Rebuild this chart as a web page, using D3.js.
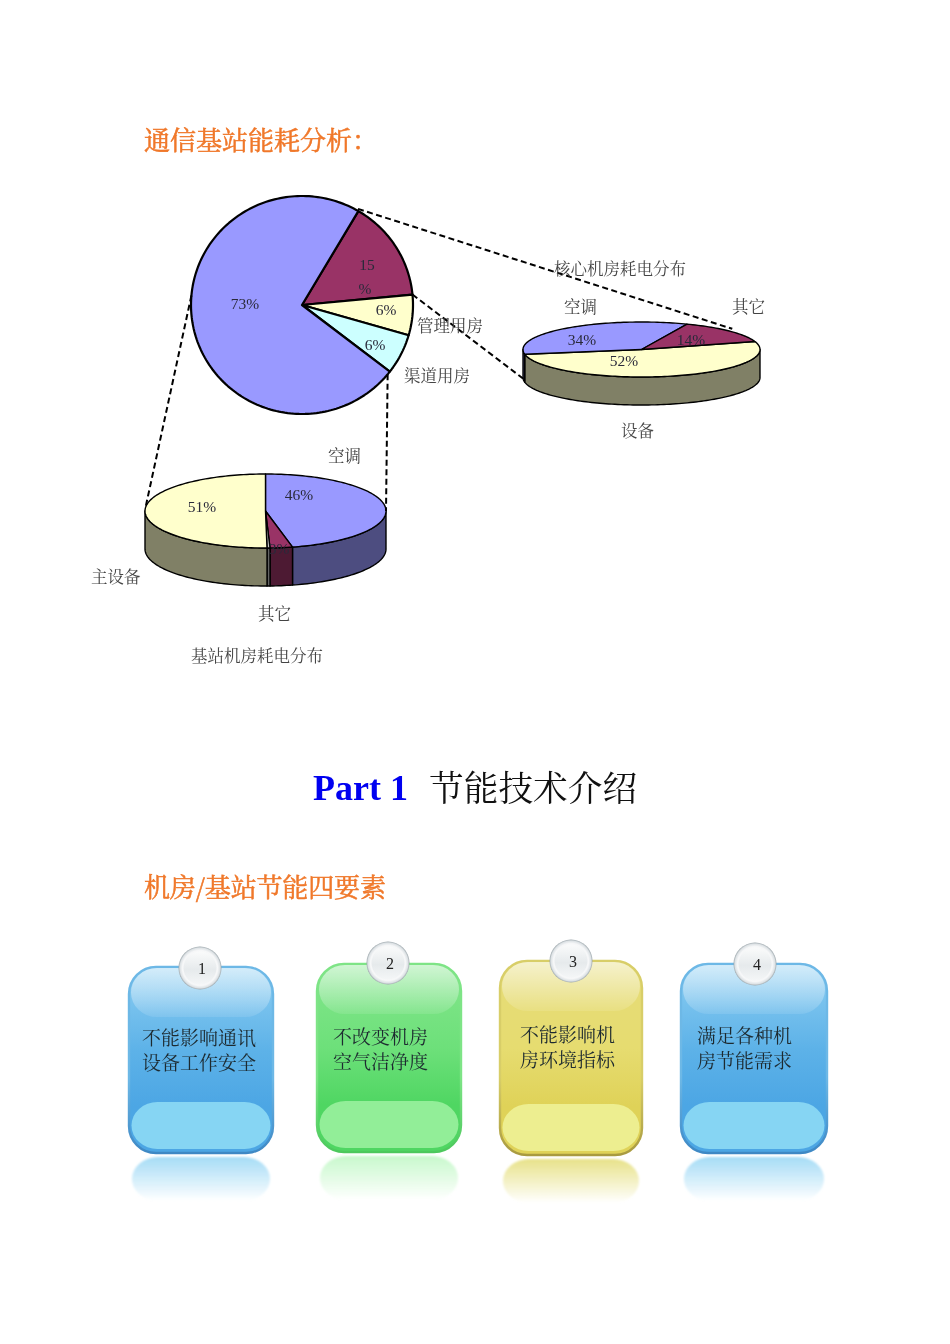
<!DOCTYPE html>
<html lang="zh"><head><meta charset="utf-8">
<script src="https://cdn.jsdelivr.net/npm/d3@7/dist/d3.min.js"></script>
<style>
html,body{margin:0;padding:0;background:#fff}
svg{display:block;filter:blur(.4px)}
text{font-family:"Noto Serif CJK SC","Source Han Serif SC","Liberation Serif","Noto Sans CJK SC",serif}
</style></head><body>
<svg id="c" width="950" height="1344" viewBox="0 0 950 1344"></svg>
<script>
// ---- data ----
const mainValues = [15, 6, 6, 73];
const mainLabels = ["15\n%", "6%", "6%", "73%"];
const mainColors = ["#993366", "#FFFFCC", "#CCFFFF", "#9999FF"];
const coreValues = [52, 34, 14];
const coreLabels = ["52%", "34%", "14%"];
const coreColors = ["#FFFFCC", "#9999FF", "#993366"];
const stationValues = [46.4, 3, 0.4, 50.2];
const stationLabels = ["46%", "3%", "", "51%"];
const stationColors = ["#9999FF", "#993366", "#C8C8C8", "#FFFFCC"];
const cardTexts = [["不能影响通讯","设备工作安全"],["不改变机房","空气洁净度"],["不能影响机","房环境指标"],["满足各种机","房节能需求"]];
const cardNumbers = ["1","2","3","4"];

// ---- layout & style ----
const svg = d3.select("#c");
const deg = Math.PI/180;
const ink = "#000";
const serif = '"Liberation Serif",serif';
const labelCol = "#444";

function pieGeom(values, startDeg){
  return d3.pie().sort(null).startAngle(startDeg*deg).endAngle((startDeg+360)*deg)(values);
}
function pt(p, a, dy=0){ // a is clockwise from 12 o'clock, radians
  return [p.cx + p.rx*Math.sin(a), p.cy - p.ry*Math.cos(a) + dy];
}
const line = d3.line();
function arcPts(p, a0, a1, dy=0){
  const n = Math.max(2, Math.ceil(Math.abs(a1-a0)/(1.5*deg)));
  return d3.range(n+1).map(i => pt(p, a0+(a1-a0)*i/n, dy));
}
function halve(c){ const k=d3.color(c); return d3.rgb(k.r/2,k.g/2,k.b/2); }
function drawPie(p, slices, colors, sw){
  const g = svg.append("g");
  if(p.depth){
    slices.forEach((s,i)=>{
      [[Math.PI/2,1.5*Math.PI],[2.5*Math.PI,3.5*Math.PI]].forEach(([lo,hi])=>{
        const a0=Math.max(s.startAngle,lo), a1=Math.min(s.endAngle,hi);
        if(a1<=a0) return;
        const top=arcPts(p,a0,a1), bot=arcPts(p,a1,a0,p.depth);
        g.append("path").attr("d",line(top.concat(bot))+"Z")
          .attr("fill",halve(colors[i]))
          .attr("stroke",ink).attr("stroke-width",sw).attr("stroke-linejoin","round");
      });
    });
  }
  slices.forEach((s,i)=>{
    g.append("path").attr("d",line([[p.cx,p.cy]].concat(arcPts(p,s.startAngle,s.endAngle)))+"Z")
      .attr("fill",colors[i]).attr("stroke",ink).attr("stroke-width",sw).attr("stroke-linejoin","round");
  });
}
function label(x,y,t,opt={}){
  return svg.append("text").attr("x",x).attr("y",y).text(t)
    .attr("font-size",opt.size||16.5).attr("fill",opt.fill||labelCol)
    .attr("text-anchor",opt.anchor||"start")
    .attr("font-weight",opt.weight||null)
    .attr("stroke",opt.stroke||null).attr("stroke-width",opt.strokeWidth||null)
    .style("font-family",opt.family||null);
}

const mainPie = {cx:302,cy:305,rx:111,ry:109};
const corePie = {cx:641.5,cy:349.5,rx:118.5,ry:27.5,depth:28};
const stationPie = {cx:265.5,cy:511,rx:120.5,ry:37,depth:38};
const mainSlices = pieGeom(mainValues,30.5);
const coreSlices = pieGeom(coreValues,73);
const stationSlices = pieGeom(stationValues,0);

// ---- headings ----
const headStyle={size:26,fill:"#F0782A",stroke:"#F0782A",strokeWidth:.55};
label(144,150,"通信基站能耗分析：",headStyle);
label(144,897,"机房/基站节能四要素",headStyle).attr("textLength",242);
label(313,800,"Part 1",{size:36,fill:"#0000F0",weight:700,family:serif});
label(429,801,"节能技术介绍",{size:34.7,fill:"#111"});

// ---- pies ----
drawPie(mainPie,mainSlices,mainColors,2.2);
drawPie(corePie,coreSlices,coreColors,1.4);
drawPie(stationPie,stationSlices,stationColors,1.4);

// ---- connectors ----
const connectors = [
 [pt(mainPie,30.3*deg,-2), pt(corePie,50*deg,-3)],
 [pt(mainPie,mainSlices[0].endAngle), pt(corePie,270*deg,29)],
 [pt(mainPie,275*deg), pt(stationPie,275*deg)],
 [pt(mainPie,129.5*deg), pt(stationPie,90*deg)]
];
svg.append("g").selectAll("path").data(connectors).join("path")
  .attr("d",d=>line(d)).attr("fill","none").attr("stroke",ink)
  .attr("stroke-width",2).attr("stroke-dasharray","6 3.5");

// ---- percentage labels ----
const pctStyle={size:15.5,fill:"#2a2a3a",anchor:"middle",family:serif};
const mainLabelPos=[[367,270],[386,315],[375,350],[245,309]];
mainLabels.forEach((t,i)=>{
  t.split("\n").forEach((s,j)=>label(mainLabelPos[i][0]-j*2,mainLabelPos[i][1]+j*24,s,pctStyle));
});
const coreLabelPos=[[624,366],[582,345],[691,345]];
coreLabels.forEach((t,i)=>label(coreLabelPos[i][0],coreLabelPos[i][1],t,pctStyle));
const stationLabelPos=[[299,500],[279,554],[0,0],[202,512]];
stationLabels.forEach((t,i)=>{ if(t) label(stationLabelPos[i][0],stationLabelPos[i][1],t,pctStyle); });

// ---- category labels ----
[["管理用房",417,332],["渠道用房",404,382],["核心机房耗电分布",554,275],["空调",564,313],["其它",732,313],
 ["设备",621,437],["空调",328,462],["主设备",91,583],["其它",258,620],["基站机房耗电分布",191,662]]
 .forEach(([t,x,y])=>label(x,y,t));

// ---- cards ----
const cardBoxes=[{x:129,y:967,w:144,h:186,cx:200,cy:968,tx:142,ty:1045},
                 {x:317,y:964,w:144,h:188,cx:388,cy:963,tx:333,ty:1044},
                 {x:500,y:961,w:142,h:194,cx:571,cy:961,tx:520,ty:1042},
                 {x:681,y:964,w:146,h:189,cx:755,cy:964,tx:697,ty:1043}];
const cardPal=[
 {top:"#8DCEF2",mid:"#5DB2E8",bot:"#4CA6E4",edgeT:"#6DB8E6",edgeB:"#3E88C4",gloss:"#86D5F3",refl:"#A6DCF6"},
 {top:"#84E68C",mid:"#6DE07A",bot:"#4FD662",edgeT:"#7EE486",edgeB:"#4CC85C",gloss:"#92EE98",refl:"#C8F8CC"},
 {top:"#E6DC78",mid:"#E6DC70",bot:"#DFD258",edgeT:"#D8CE68",edgeB:"#A89A40",gloss:"#EDEE90",refl:"#E8E28A"},
 {top:"#8DCEF2",mid:"#5DB2E8",bot:"#4CA6E4",edgeT:"#6DB8E6",edgeB:"#3E88C4",gloss:"#86D5F3",refl:"#A6DCF6"}];
const defs=svg.append("defs");
function grad(id,stops){
  const g=defs.append("linearGradient").attr("id",id).attr("x1",0).attr("y1",0).attr("x2",0).attr("y2",1);
  stops.forEach(([o,c,a])=>g.append("stop").attr("offset",o).attr("stop-color",c).attr("stop-opacity",a==null?1:a));
}
grad("gloss",[[0,"#fff",.62],[1,"#fff",.1]]);
grad("badgeFace",[[0,"#FAFBFB"],[.55,"#E6EAEC"],[1,"#F4F6F7"]]);
defs.append("filter").attr("id","soft").attr("x","-10%").attr("y","-10%").attr("width","120%").attr("height","120%")
  .append("feGaussianBlur").attr("stdDeviation",1.2);
const badge=defs.append("radialGradient").attr("id","badge").attr("cx",.5).attr("cy",.5).attr("r",.5);
[[0,"#ffffff"],[.82,"#F6F7F8"],[.93,"#DDE2E5"],[1,"#9EA8AD"]].forEach(([o,c])=>badge.append("stop").attr("offset",o).attr("stop-color",c));
cardBoxes.forEach((b,i)=>{
  const p=cardPal[i], g=svg.append("g");
  grad("body"+i,[[0,p.top],[.45,p.mid],[.75,p.bot],[1,p.bot]]);
  grad("refl"+i,[[0,p.refl],[.6,p.refl,.4],[1,p.refl,0]]);
  grad("edge"+i,[[0,p.edgeT],[.6,p.edgeT],[1,p.edgeB]]);
  g.append("rect").attr("x",b.x+3).attr("y",b.y+b.h+4).attr("width",b.w-6).attr("height",44)
    .attr("rx",26).attr("fill","url(#refl"+i+")").attr("filter","url(#soft)");
  g.append("rect").attr("x",b.x).attr("y",b.y).attr("width",b.w).attr("height",b.h).attr("rx",27)
    .attr("fill","url(#body"+i+")").attr("stroke","url(#edge"+i+")").attr("stroke-width",2.4);
  g.append("rect").attr("x",b.x+2).attr("y",b.y+1).attr("width",b.w-4).attr("height",49).attr("rx",26)
    .attr("fill","url(#gloss)");
  g.append("rect").attr("x",b.x+2.5).attr("y",b.y+b.h-51).attr("width",b.w-5).attr("height",47).attr("rx",26)
    .attr("fill",p.gloss);
  g.append("circle").attr("cx",b.cx).attr("cy",b.cy).attr("r",21.5).attr("fill","url(#badge)");
  g.append("circle").attr("cx",b.cx).attr("cy",b.cy).attr("r",16.5).attr("fill","url(#badgeFace)");
  g.append("text").attr("x",b.cx+2).attr("y",b.cy+6).attr("text-anchor","middle").attr("font-size",16)
    .attr("fill","#222").style("font-family",serif).text(cardNumbers[i]);
  cardTexts[i].forEach((t,j)=>g.append("text").attr("x",b.tx).attr("y",b.ty+j*25).attr("font-size",19)
    .attr("fill","#1d2a30").text(t));
});
</script></body></html>
